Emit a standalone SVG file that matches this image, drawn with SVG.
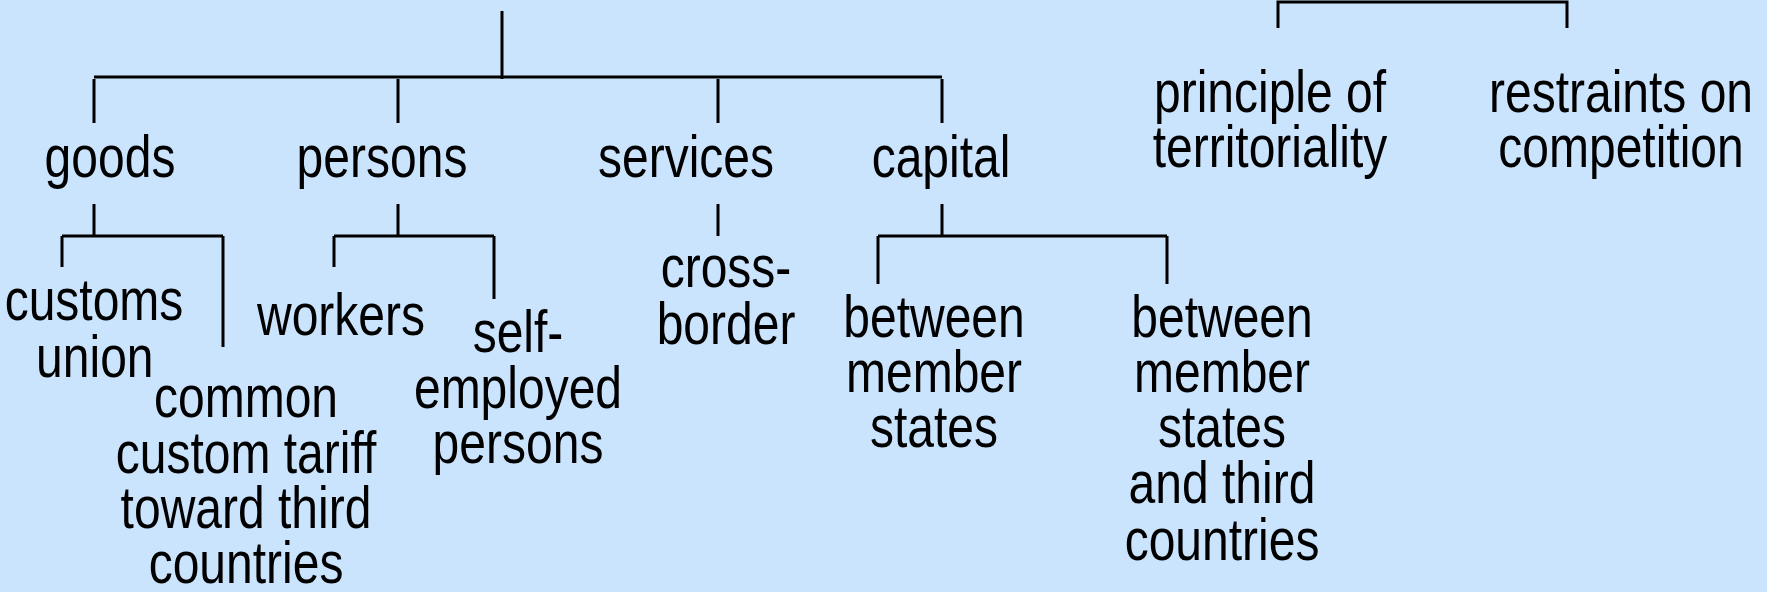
<svg xmlns="http://www.w3.org/2000/svg" width="1767" height="592" viewBox="0 0 1767 592">
  <style>
    .bg { fill: #CBE4FD; }
    .lbl { font-family: "Liberation Sans", Arial, sans-serif; font-size: 60px; fill: #000; text-anchor: middle; }
    .wire { stroke: #000; stroke-width: 3; fill: none; stroke-linecap: butt; }
  </style>
  <rect class="bg" x="0" y="0" width="1767" height="592"/>

  <g id="connectors">
    <!-- trunk and first-level bar -->
    <path class="wire" d="M502 11 V79"/>
    <path class="wire" d="M94 77 H942"/>
    <path class="wire" d="M94 79 V123 M398 79 V123 M718 79 V123 M942 79 V123"/>
    <!-- goods branch -->
    <path class="wire" d="M94 204 V236 M62 236 H223 M62 236 V267 M223 236 V347"/>
    <!-- persons branch -->
    <path class="wire" d="M398 204 V236 M334 236 H494 M334 236 V267 M494 236 V299"/>
    <!-- services branch -->
    <path class="wire" d="M718 204 V236"/>
    <!-- capital branch -->
    <path class="wire" d="M942 204 V236 M878 236 H1167 M878 236 V284 M1167 236 V284"/>
    <!-- right-hand bracket -->
    <path class="wire" d="M1278 28 V2 H1567 V28"/>
  </g>

  <!-- labels are set in a condensed cut: each node is squeezed horizontally about its centre -->
  <g id="goods" transform="translate(110 0) scale(0.8 1)"><text class="lbl" x="0" y="177">goods</text></g>
  <g id="persons" transform="translate(382 0) scale(0.8 1)"><text class="lbl" x="0" y="177">persons</text></g>
  <g id="services" transform="translate(686 0) scale(0.8 1)"><text class="lbl" x="0" y="177">services</text></g>
  <g id="capital" transform="translate(941 0) scale(0.8 1)"><text class="lbl" x="0" y="177">capital</text></g>

  <g id="customs-union" transform="translate(94 0) scale(0.8 1)">
    <text class="lbl" x="0" y="320">customs</text>
    <text class="lbl" x="1" y="377">union</text>
  </g>
  <g id="common-tariff" transform="translate(246 0) scale(0.8 1)">
    <text class="lbl" x="0" y="417">common</text>
    <text class="lbl" x="0" y="473">custom tariff</text>
    <text class="lbl" x="0" y="528">toward third</text>
    <text class="lbl" x="0" y="583">countries</text>
  </g>
  <g id="workers" transform="translate(341 0) scale(0.8 1)"><text class="lbl" x="0" y="335">workers</text></g>
  <g id="self-employed" transform="translate(518 0) scale(0.8 1)">
    <text class="lbl" x="0" y="352">self-</text>
    <text class="lbl" x="0" y="408">employed</text>
    <text class="lbl" x="0" y="463">persons</text>
  </g>
  <g id="cross-border" transform="translate(726 0) scale(0.8 1)">
    <text class="lbl" x="0" y="287">cross-</text>
    <text class="lbl" x="0" y="344">border</text>
  </g>
  <g id="between-member-states" transform="translate(934 0) scale(0.8 1)">
    <text class="lbl" x="0" y="337">between</text>
    <text class="lbl" x="0" y="392">member</text>
    <text class="lbl" x="0" y="447">states</text>
  </g>
  <g id="between-member-states-third" transform="translate(1222 0) scale(0.8 1)">
    <text class="lbl" x="0" y="337">between</text>
    <text class="lbl" x="0" y="392">member</text>
    <text class="lbl" x="0" y="447">states</text>
    <text class="lbl" x="0" y="503">and third</text>
    <text class="lbl" x="0" y="560">countries</text>
  </g>
  <g id="territoriality" transform="translate(1270 0) scale(0.8 1)">
    <text class="lbl" x="0" y="112">principle of</text>
    <text class="lbl" x="0" y="167">territoriality</text>
  </g>
  <g id="restraints" transform="translate(1621 0) scale(0.8 1)">
    <text class="lbl" x="0" y="112">restraints on</text>
    <text class="lbl" x="0" y="167">competition</text>
  </g>
</svg>
